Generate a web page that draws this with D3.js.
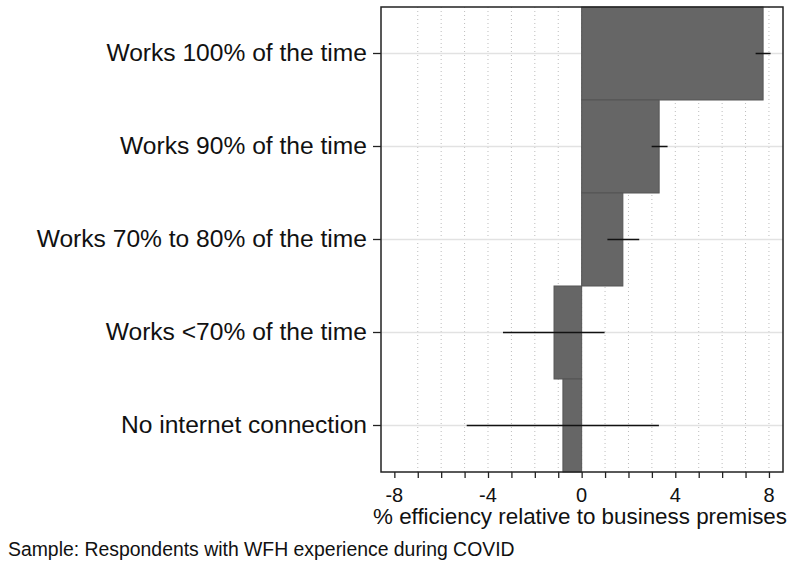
<!DOCTYPE html>
<html>
<head>
<meta charset="utf-8">
<script src="https://cdn.jsdelivr.net/npm/d3@7/dist/d3.min.js"></script>
<style>
  html, body { margin: 0; padding: 0; background: #fff; }
  svg { display: block; font-family: "Liberation Sans", Arial, Helvetica, sans-serif; }
</style>
</head>
<body>
<svg id="chart" width="793" height="562"></svg>
<script>
// Categories, top to bottom
const categories = [
  "Works 100% of the time",
  "Works 90% of the time",
  "Works 70% to 80% of the time",
  "Works <70% of the time",
  "No internet connection"
];
// Point estimates (% efficiency relative to business premises)
const estimates = [7.75, 3.31, 1.76, -1.18, -0.80];
// Confidence interval bounds
const ciLow  = [7.43, 2.99, 1.10, -3.36, -4.91];
const ciHigh = [8.07, 3.67, 2.46, 0.98, 3.30];
// Axis ticks
const labelTicks = [-8, -4, 0, 4, 8];
const minorTicks = d3.range(-8, 9, 1);
const gridTicks = d3.range(-7, 9, 1);

const xTitle = "% efficiency relative to business premises";
const caption = "Sample: Respondents with WFH experience during COVID";

const svg = d3.select("#chart");
const plot = { left: 381, right: 783, top: 7, bottom: 472 };

const x = d3.scaleLinear().domain([-8.57, 8.6]).range([plot.left, plot.right]);
const y = d3.scaleBand().domain(categories).range([plot.top, plot.bottom]).padding(0);

// vertical dotted grid
svg.append("g").selectAll("line").data(gridTicks).join("line")
  .attr("x1", d => x(d)).attr("x2", d => x(d))
  .attr("y1", plot.top).attr("y2", plot.bottom)
  .attr("stroke", "#bdbdbd").attr("stroke-width", 1)
  .attr("stroke-dasharray", "1,3");

// horizontal category grid
svg.append("g").selectAll("line").data(categories).join("line")
  .attr("x1", plot.left).attr("x2", plot.right)
  .attr("y1", d => y(d) + y.bandwidth() / 2).attr("y2", d => y(d) + y.bandwidth() / 2)
  .attr("stroke", "#e2e2e2").attr("stroke-width", 1.5);

// bars
svg.append("g").selectAll("rect").data(categories).join("rect")
  .attr("x", (d, i) => x(Math.min(0, estimates[i])))
  .attr("width", (d, i) => Math.abs(x(estimates[i]) - x(0)))
  .attr("y", d => y(d))
  .attr("height", y.bandwidth())
  .attr("fill", "#666666")
  .attr("stroke", "#555555").attr("stroke-width", 1);

// confidence intervals
svg.append("g").selectAll("line").data(categories).join("line")
  .attr("x1", (d, i) => x(ciLow[i])).attr("x2", (d, i) => x(ciHigh[i]))
  .attr("y1", d => y(d) + y.bandwidth() / 2).attr("y2", d => y(d) + y.bandwidth() / 2)
  .attr("stroke", "#111").attr("stroke-width", 1.5);

// frame
svg.append("rect")
  .attr("x", plot.left).attr("y", plot.top)
  .attr("width", plot.right - plot.left).attr("height", plot.bottom - plot.top)
  .attr("fill", "none").attr("stroke", "#222").attr("stroke-width", 1.5);

// x axis ticks
const xAxis = svg.append("g").attr("transform", `translate(0,${plot.bottom})`);
xAxis.call(d3.axisBottom(x).tickValues(minorTicks).tickSize(6).tickFormat(""))
  .call(g => g.select(".domain").remove())
  .call(g => g.selectAll(".tick line").attr("stroke", "#222").attr("stroke-width", 1.3));
xAxis.selectAll("text.lbl").data(labelTicks).join("text")
  .attr("class", "lbl")
  .attr("x", d => x(d)).attr("y", 30)
  .attr("text-anchor", "middle")
  .attr("font-size", 20).attr("fill", "#111")
  .text(d => d);

// y axis ticks and labels
const yAxis = svg.append("g").attr("transform", `translate(${plot.left},0)`);
yAxis.call(d3.axisLeft(y).tickSize(8).tickPadding(6))
  .call(g => g.select(".domain").remove())
  .call(g => g.selectAll(".tick line").attr("stroke", "#222").attr("stroke-width", 1.3))
  .call(g => g.selectAll(".tick text").attr("font-size", 24.6).attr("fill", "#111")
    .attr("font-family", "Liberation Sans, Arial, sans-serif"));

// axis title
svg.append("text")
  .attr("x", 580).attr("y", 524)
  .attr("text-anchor", "middle").attr("font-size", 22.4).attr("fill", "#111")
  .text(xTitle);

// caption
svg.append("text")
  .attr("x", 8).attr("y", 556)
  .attr("font-size", 19.4).attr("fill", "#111")
  .text(caption);
</script>
</body>
</html>
